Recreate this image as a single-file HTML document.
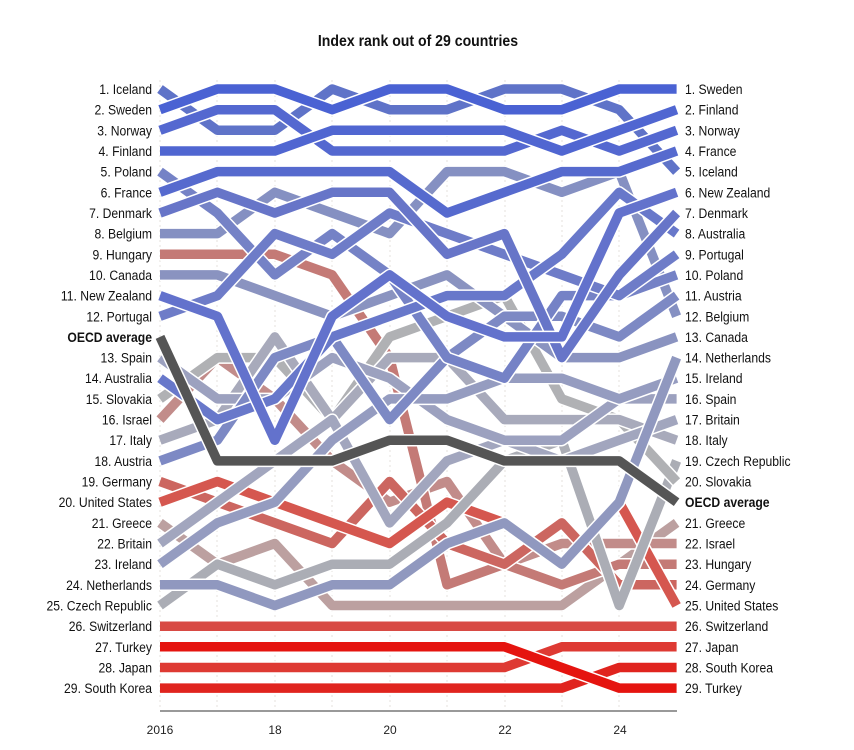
<!DOCTYPE html>
<html><head><meta charset="utf-8"><style>
body{margin:0;background:#fff}
svg text{font-family:"Liberation Sans",sans-serif}
</style></head><body>
<svg id="c" width="854" height="745" xmlns="http://www.w3.org/2000/svg">
<rect width="854" height="745" fill="#fff"/>
<text x="475" y="46" font-size="16" font-weight="bold" text-anchor="middle" fill="#111" transform="scale(0.88,1)">Index rank out of 29 countries</text>
<g stroke="#e4e2dc" stroke-dasharray="2,3" stroke-width="1">
<line x1="160" y1="80" x2="160" y2="710"/><line x1="217" y1="80" x2="217" y2="710"/><line x1="275" y1="80" x2="275" y2="710"/><line x1="332" y1="80" x2="332" y2="710"/><line x1="390" y1="80" x2="390" y2="710"/><line x1="447" y1="80" x2="447" y2="710"/><line x1="505" y1="80" x2="505" y2="710"/><line x1="562" y1="80" x2="562" y2="710"/><line x1="619" y1="80" x2="619" y2="710"/>
</g>
<g id="lines" fill="none" stroke-linejoin="round"></g>
<line x1="160" y1="711" x2="677" y2="711" stroke="#333" stroke-width="1"/>
<g font-size="12" fill="#222" text-anchor="middle">
<text x="160" y="734">2016</text><text x="275" y="734">18</text><text x="390" y="734">20</text><text x="505" y="734">22</text><text x="620" y="734">24</text>
</g>
<g id="labels" font-size="14" fill="#111"></g>
</svg>
<script>
const Y=r=>89+(r-1)*20.66, X=i=>160+i*57.4;
const D=[
["Switzerland","#d84a44",[27,27,27,27,27,27,27,27,27,27]],
["Japan","#de3a33",[29,29,29,29,29,29,29,28,28,28]],
["South Korea","#e0241e",[30,30,30,30,30,30,30,30,29,29]],
["Turkey","#e5140f",[28,28,28,28,28,28,28,29,30,30]],
["Greece","#bca0a0",[22,24,23,26,26,26,26,26,24,22]],
["Israel","#c28c8a",[17,14,16,19,21,20,24,23,23,23]],
["Hungary","#c47a76",[9,9,9,10,14,25,24,25,24,24]],
["Germany","#cc6660",[20,21,22,23,20,23,24,22,25,25]],
["United States","#d5574f",[21,20,21,22,23,21,22,24,21,26]],
["Czech Republic","#abadb5",[26,24,25,24,24,22,19,18,26,19]],
["Slovakia","#b0b1b4",[16,14,14,17,13,12,11,16,17,20]],
["Italy","#a8aabb",[18,17,13,17,14,14,17,17,17,18]],
["Britain","#a2a6be",[23,21,19,17,22,19,18,19,18,17]],
["Spain","#9ca1bf",[14,16,16,14,15,17,18,18,16,16]],
["Ireland","#959cc0",[24,22,21,18,16,16,15,15,16,15]],
["Netherlands","#9098bf",[25,25,26,25,25,23,22,24,21,14]],
["Canada","#8a93c0",[10,10,11,12,11,10,12,14,14,13]],
["Belgium","#8590c2",[8,8,6,7,8,5,5,6,5,12]],
["Austria","#7d89c4",[19,18,14,13,17,14,12,12,13,11]],
["Poland","#7582c6",[5,7,10,8,10,14,15,11,11,10]],
["Portugal","#6e7cc8",[12,11,8,9,7,8,9,10,11,9]],
["Australia","#6878ca",[15,17,16,13,12,11,11,9,6,8]],
["Denmark","#6775c8",[7,6,7,6,6,9,8,14,10,7]],
["New Zealand","#6372cc",[11,12,18,12,10,12,13,13,7,6]],
["OECD","#555",[13,19,19,19,18,18,19,19,19,21]],
["Iceland","#5f73c8",[1,3,3,1,2,2,1,1,2,5]],
["France","#566ace",[6,5,5,5,5,7,6,5,5,4]],
["Norway","#5468d0",[3,2,2,4,4,4,4,3,4,3]],
["Finland","#5066d1",[4,4,4,3,3,3,3,4,3,2]],
["Sweden","#4a62d3",[2,1,1,2,1,1,2,2,1,1]]];
const ns="http://www.w3.org/2000/svg",g=document.getElementById("lines");
for(const [n,c,r] of D){const p=r.map((v,i)=>X(i).toFixed(1)+","+Y(v).toFixed(1)).join(" ");
for(const [s,w] of [["#fff",12.5],[c,9.5]]){const e=document.createElementNS(ns,"polyline");e.setAttribute("points",p);e.setAttribute("stroke",s);e.setAttribute("stroke-width",w);g.appendChild(e);}}
const L=["1. Iceland","2. Sweden","3. Norway","4. Finland","5. Poland","6. France","7. Denmark","8. Belgium","9. Hungary","10. Canada","11. New Zealand","12. Portugal","OECD average","13. Spain","14. Australia","15. Slovakia","16. Israel","17. Italy","18. Austria","19. Germany","20. United States","21. Greece","22. Britain","23. Ireland","24. Netherlands","25. Czech Republic","26. Switzerland","27. Turkey","28. Japan","29. South Korea"];
const R=["1. Sweden","2. Finland","3. Norway","4. France","5. Iceland","6. New Zealand","7. Denmark","8. Australia","9. Portugal","10. Poland","11. Austria","12. Belgium","13. Canada","14. Netherlands","15. Ireland","16. Spain","17. Britain","18. Italy","19. Czech Republic","20. Slovakia","OECD average","21. Greece","22. Israel","23. Hungary","24. Germany","25. United States","26. Switzerland","27. Japan","28. South Korea","29. Turkey"];
const lg=document.getElementById("labels"),S=0.87;
function lab(t,x,y,a){const e=document.createElementNS(ns,"text");e.setAttribute("x",(x/S).toFixed(1));e.setAttribute("y",y+5);e.setAttribute("transform","scale("+S+",1)");e.setAttribute("text-anchor",a);if(t[0]=="O")e.setAttribute("font-weight","bold");e.textContent=t;lg.appendChild(e);}
L.forEach((t,i)=>lab(t,152,Y(i+1),"end"));R.forEach((t,i)=>lab(t,685,Y(i+1),"start"));
</script>
</body></html>
